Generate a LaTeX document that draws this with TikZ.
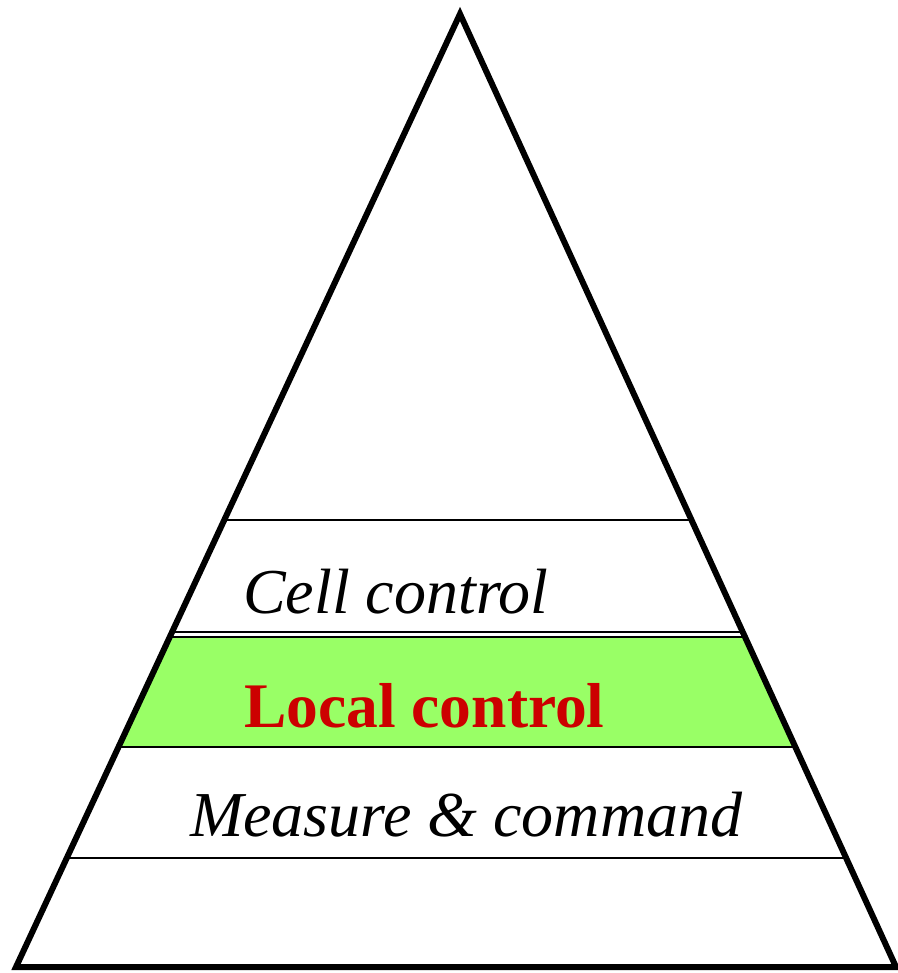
\documentclass[tikz,border=0pt]{standalone}
\usepackage{fontspec}
\setmainfont{Liberation Serif}
\usetikzlibrary{calc}
\definecolor{bandgreen}{HTML}{99FF66}
\definecolor{labelred}{HTML}{CC0000}
\begin{document}
\begin{tikzpicture}[x=1pt,y=-1pt,
  outline/.style={line width=6pt,line join=miter},
  divider/.style={line width=2pt},
  levellabel/.style={anchor=base west,inner sep=0pt,font=\fontsize{64}{70}\selectfont\itshape},
  activelabel/.style={anchor=base west,inner sep=0pt,font=\fontsize{63.5}{70}\selectfont\bfseries,text=labelred}]
  \useasboundingbox (0,0) rectangle (897,973);
  % pyramid corners
  \coordinate (apex) at (460,14);
  \coordinate (bl) at (16,967);
  \coordinate (br) at (896,967);
  % points on the two sides at each level height (fraction = (y-14)/953)
  \foreach \name/\y in {a/520,b/632,c/637,d/747,e/858}{
    \pgfmathsetmacro{\t}{(\y-14)/953}
    \coordinate (\name L) at ($(apex)!\t!(bl)$);
    \coordinate (\name R) at ($(apex)!\t!(br)$);
  }
  % highlighted level
  \fill[bandgreen] (cL) -- (cR) -- (dR) -- (dL) -- cycle;
  % level dividers
  \draw[divider] (aL) -- (aR);
  \draw[divider] (bL) -- (bR);
  \draw[divider] (cL) -- (cR);
  \draw[divider] (dL) -- (dR);
  \draw[divider] (eL) -- (eR);
  % pyramid outline
  \draw[outline] (apex) -- (br) -- (bl) -- cycle;
  % level labels
  \node[levellabel] (cell) at (243,613) {Cell control};
  \node[activelabel] (local) at (244,727) {Local control};
  \node[levellabel] (measure) at (190,836) {Measure \& command};
\end{tikzpicture}
\end{document}
